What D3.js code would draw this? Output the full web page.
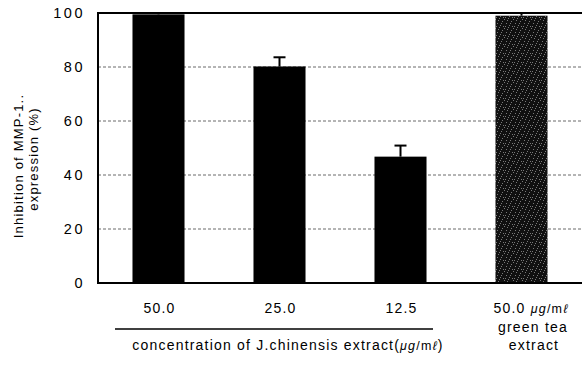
<!DOCTYPE html>
<html><head><meta charset="utf-8">
<script src="https://cdn.jsdelivr.net/npm/d3@7"></script>
<style>body{margin:0;background:#fff}svg{display:block;font-family:"Liberation Sans",Arial,sans-serif}</style>
</head><body>
<svg id="c" width="582" height="365"></svg>
<script>
const categories = ["50.0", "25.0", "12.5", "50.0 μg/mℓ"];
const values = [99.5, 80.2, 46.8, 99.0];
const errors = [0.5, 3.4, 4.1, 1.0];
const yTicks = [0, 20, 40, 60, 80, 100];

const svg = d3.select("#c");
const m = {l: 98, r: 582, t: 13, b: 283};
const x = d3.scaleBand().domain(categories).range([m.l, m.r]).paddingInner(0.57).paddingOuter(0.285);
const y = d3.scaleLinear().domain([0, 100]).range([m.b, m.t]);

const defs = svg.append("defs");
const pat = defs.append("pattern").attr("id","stip").attr("patternUnits","userSpaceOnUse").attr("width",9).attr("height",9);
pat.append("rect").attr("width",9).attr("height",9).attr("fill","#111");
[[0,1],[4,0],[7,3],[2,5],[5,7],[8,8],[1,8],[6,5],[3,2]].forEach(p=>pat.append("rect").attr("x",p[0]).attr("y",p[1]).attr("width",1).attr("height",1).attr("fill","#7a7a7a"));

// gridlines
svg.append("g").selectAll("line").data(yTicks.filter(d=>d>0 && d<100)).join("line")
  .attr("x1", m.l).attr("x2", m.r).attr("y1", d=>y(d)).attr("y2", d=>y(d))
  .attr("stroke","#444").attr("stroke-width",0.8).attr("stroke-dasharray","3,2");

// bars
svg.append("g").selectAll("rect").data(values).join("rect")
  .attr("x",(d,i)=>x(categories[i])).attr("width",x.bandwidth())
  .attr("y",d=>y(d)).attr("height",d=>y(0)-y(d))
  .attr("fill",(d,i)=>i===3?"url(#stip)":"#000");

// error bars
const eg = svg.append("g").attr("stroke","#000").attr("stroke-width",2);
values.forEach((v,i)=>{
  const cx = x(categories[i]) + x.bandwidth()/2;
  eg.append("line").attr("x1",cx).attr("x2",cx).attr("y1",y(v)).attr("y2",y(v+errors[i]));
  eg.append("line").attr("x1",cx-6).attr("x2",cx+6).attr("y1",y(v+errors[i])).attr("y2",y(v+errors[i]));
});

// frame
svg.append("line").attr("x1",m.l).attr("x2",m.r).attr("y1",m.t).attr("y2",m.t).attr("stroke","#000").attr("stroke-width",2);
svg.append("line").attr("x1",m.l).attr("x2",m.r).attr("y1",m.b).attr("y2",m.b).attr("stroke","#000").attr("stroke-width",2);
svg.append("line").attr("x1",m.l).attr("x2",m.l).attr("y1",m.t-1).attr("y2",m.b+1).attr("stroke","#000").attr("stroke-width",2);

// y axis labels
const ya = svg.append("g").attr("transform",`translate(${m.l},0)`)
  .call(d3.axisLeft(y).tickValues(yTicks).tickSize(0).tickPadding(13));
ya.select(".domain").remove();
ya.selectAll("text").attr("font-size",14.5).attr("letter-spacing","2.5px")
  .attr("font-family","Liberation Sans, Arial, sans-serif").attr("fill","#000");

// y title
const ytg = svg.append("g").attr("font-size",13).attr("letter-spacing","1.2px").attr("fill","#000").attr("text-anchor","middle");
ytg.append("text").attr("transform","translate(23,166) rotate(-90)").text("Inhibition of MMP-1..");
ytg.append("text").attr("transform","translate(38,159) rotate(-90)").text("expression (%)");

// x labels
const xl = svg.append("g").attr("font-size",14).attr("letter-spacing","1.2px").attr("fill","#000");
categories.slice(0,3).forEach(c=>{
  xl.append("text").attr("x",x(c)+x.bandwidth()/2+1).attr("y",313).attr("text-anchor","middle").text(c);
});
const c4 = 531;
const t4 = xl.append("text").attr("x",c4).attr("y",313).attr("text-anchor","middle");
t4.append("tspan").text("50.0 ");
t4.append("tspan").attr("font-style","italic").attr("font-size",12.5).text("μg");
t4.append("tspan").attr("font-size",12.5).text("/m");
t4.append("tspan").attr("font-style","italic").attr("font-size",12.5).text("ℓ");
xl.append("text").attr("x",c4+2).attr("y",332).attr("text-anchor","middle").text("green tea");
xl.append("text").attr("x",c4+3).attr("y",350).attr("text-anchor","middle").text("extract");

svg.append("line").attr("x1",115).attr("x2",433).attr("y1",329).attr("y2",329).attr("stroke","#000").attr("stroke-width",1.5);
const t5 = xl.append("text").attr("x",288).attr("y",350).attr("text-anchor","middle");
t5.append("tspan").text("concentration of J.chinensis extract(");
t5.append("tspan").attr("font-style","italic").attr("font-size",12.5).text("μg");
t5.append("tspan").attr("font-size",12.5).text("/m");
t5.append("tspan").attr("font-style","italic").attr("font-size",12.5).text("ℓ");
t5.append("tspan").text(")");
</script>
</body></html>
